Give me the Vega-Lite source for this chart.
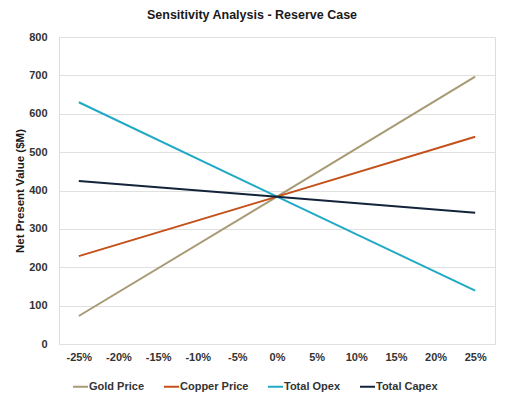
{
  "$schema": "https://vega.github.io/schema/vega-lite/v6.json",
  "autosize": "none",
  "width": 436,
  "height": 307,
  "padding": {"left": 59, "top": 37, "right": 10, "bottom": 54},
  "background": "white",
  "title": {
    "text": "Sensitivity Analysis - Reserve Case",
    "font": "Liberation Sans",
    "fontSize": 12.5,
    "fontWeight": "bold",
    "color": "#1a1a1a",
    "anchor": "middle",
    "dx": -25,
    "offset": 10
  },
  "data": {
    "values": [
      {"change": "-25%", "series": "Gold Price", "npv": 73},
      {"change": "0%", "series": "Gold Price", "npv": 384},
      {"change": "25%", "series": "Gold Price", "npv": 697},
      {"change": "-25%", "series": "Copper Price", "npv": 229},
      {"change": "0%", "series": "Copper Price", "npv": 384},
      {"change": "25%", "series": "Copper Price", "npv": 540},
      {"change": "-25%", "series": "Total Opex", "npv": 630},
      {"change": "0%", "series": "Total Opex", "npv": 384},
      {"change": "25%", "series": "Total Opex", "npv": 139},
      {"change": "-25%", "series": "Total Capex", "npv": 425},
      {"change": "0%", "series": "Total Capex", "npv": 384},
      {"change": "25%", "series": "Total Capex", "npv": 342}
    ]
  },
  "mark": {"type": "line", "strokeWidth": 2},
  "encoding": {
    "x": {
      "field": "change",
      "type": "ordinal",
      "scale": {
        "domain": ["-25%", "-20%", "-15%", "-10%", "-5%", "0%", "5%", "10%", "15%", "20%", "25%"],
        "paddingOuter": 0.5
      },
      "axis": {
        "title": null,
        "labelAngle": 0,
        "labelFont": "Liberation Sans",
        "labelFontSize": 11,
        "labelFontWeight": "bold",
        "labelColor": "#333333",
        "labelPadding": 7,
        "ticks": false,
        "domain": false,
        "grid": false
      }
    },
    "y": {
      "field": "npv",
      "type": "quantitative",
      "scale": {"domain": [0, 800], "nice": false},
      "axis": {
        "title": "Net Present Value ($M)",
        "titleFont": "Liberation Sans",
        "titleFontSize": 11.5,
        "titleFontWeight": "bold",
        "titleColor": "#1a1a1a",
        "titlePadding": 3,
        "values": [0, 100, 200, 300, 400, 500, 600, 700, 800],
        "labelFont": "Liberation Sans",
        "labelFontSize": 11,
        "labelFontWeight": "bold",
        "labelColor": "#333333",
        "labelPadding": 12,
        "ticks": false,
        "domain": false,
        "grid": true,
        "gridColor": "#e0e0e0",
        "gridWidth": 1
      }
    },
    "color": {
      "field": "series",
      "type": "nominal",
      "scale": {
        "domain": ["Gold Price", "Copper Price", "Total Opex", "Total Capex"],
        "range": ["#A89A74", "#C4501A", "#21AAC5", "#13233A"]
      },
      "legend": {
        "title": null,
        "orient": "none",
        "direction": "horizontal",
        "legendX": 13,
        "legendY": 341,
        "symbolType": "stroke",
        "symbolSize": 225,
        "symbolStrokeWidth": 2,
        "labelFont": "Liberation Sans",
        "labelFontSize": 11,
        "labelFontWeight": "bold",
        "labelColor": "#333333",
        "labelOffset": 0,
        "columnPadding": 15
      }
    }
  },
  "config": {
    "view": {"stroke": "#dddddd", "strokeWidth": 1}
  }
}
